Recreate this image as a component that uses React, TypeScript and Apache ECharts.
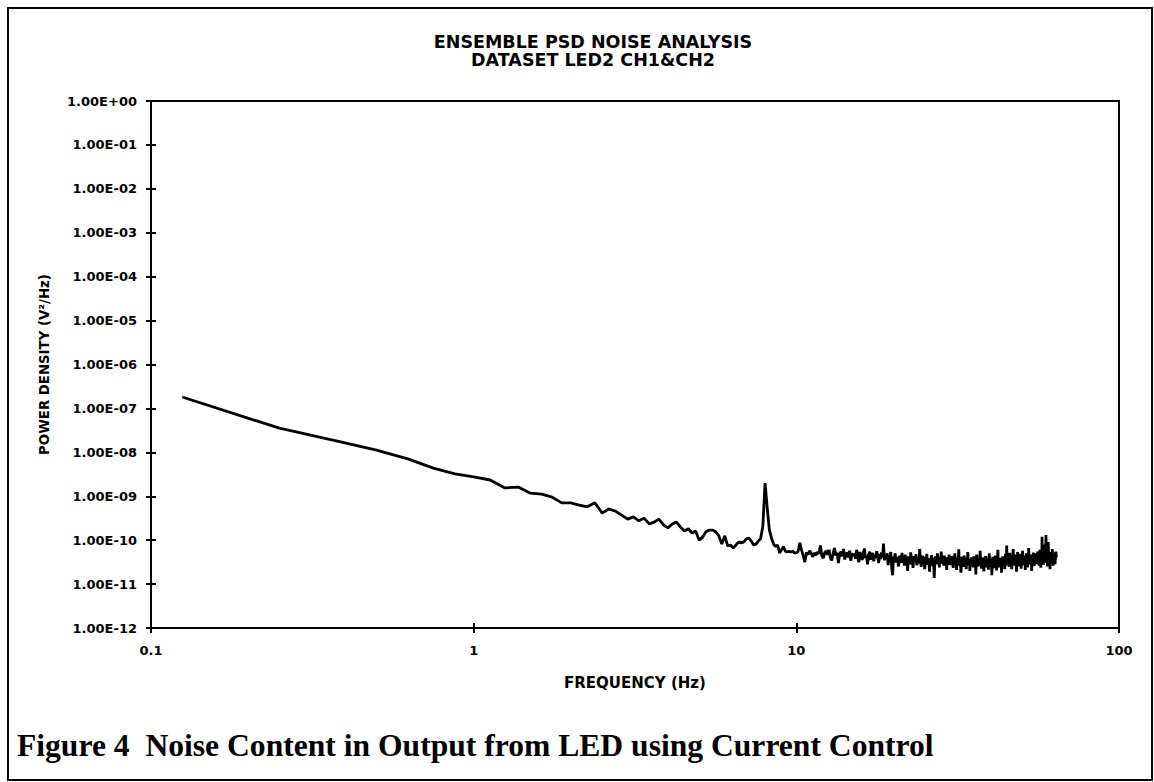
import React, { useEffect, useRef } from "react";
import * as echarts from "echarts";

// Chart texts
const TITLE_LINES = ["ENSEMBLE PSD NOISE ANALYSIS", "DATASET LED2 CH1&CH2"];
const X_NAME = "FREQUENCY (Hz)";
const Y_NAME = "POWER DENSITY (V²/Hz)";
const CAPTION = "Figure 4\u00a0\u00a0Noise Content in Output from LED using Current Control";

// Axis ranges (log)
const X_MIN = 0.1;
const X_MAX = 100;
const Y_MIN = 1e-12;
const Y_MAX = 1;

// FFT bin spacing (Hz); bins start at one step
const FREQ_STEP = 0.125;

// PSD values as log10 exponents
// 0.125 Hz .. 10 Hz
const band0to10Exp = [
  -6.74, -7.45, -7.74, -7.95, -8.15, -8.36, -8.49, -8.56, -8.63, -8.81,
  -8.79, -8.93, -8.95, -9.02, -9.15, -9.15, -9.2, -9.24, -9.15, -9.38,
  -9.29, -9.34, -9.43, -9.52, -9.47, -9.56, -9.5, -9.63, -9.59, -9.52,
  -9.65, -9.72, -9.63, -9.59, -9.7, -9.79, -9.74, -9.84, -9.79, -10.0,
  -9.93, -9.81, -9.77, -9.77, -9.81, -9.9, -10.09, -9.9, -10.13, -10.11,
  -10.18, -10.11, -10.04, -10.06, -10.04, -9.97, -9.95, -10.02, -10.11, -10.09,
  -10.02, -9.97, -9.68, -8.7, -9.27, -9.77, -9.95, -10.09, -10.15, -10.11,
  -10.29, -10.22, -10.15, -10.25, -10.27, -10.25, -10.27, -10.25, -10.29, -10.29,
];
// 10.125 .. 15 Hz
const band10to15Exp = [
  -10.26, -10.06, -10.22, -10.35, -10.5, -10.28, -10.33, -10.24, -10.3, -10.38,
  -10.29, -10.34, -10.27, -10.31, -10.12, -10.36, -10.41, -10.28, -10.25, -10.33,
  -10.22, -10.4, -10.46, -10.3, -10.18, -10.35, -10.29, -10.52, -10.31, -10.26,
  -10.37, -10.2, -10.44, -10.33, -10.28, -10.39, -10.24, -10.47, -10.3, -10.35,
];
// 15.125 .. 20 Hz
const band15to20Exp = [
  -10.31, -10.42, -10.22, -10.38, -10.5, -10.27, -10.36, -10.45, -10.3, -10.19,
  -10.41, -10.35, -10.55, -10.33, -10.26, -10.44, -10.38, -10.29, -10.48, -10.34,
  -10.4, -10.25, -10.37, -10.52, -10.31, -10.43, -10.28, -10.39, -10.08, -10.46,
  -10.33, -10.41, -10.3, -10.57, -10.36, -10.44, -10.27, -10.62, -10.8, -10.38,
];
// 20.125 .. 30 Hz
const band20to30Exp = [
  -10.42, -10.3, -10.51, -10.38, -10.47, -10.6, -10.35, -10.44, -10.52, -10.29,
  -10.46, -10.4, -10.58, -10.33, -10.49, -10.43, -10.7, -10.37, -10.45, -10.55,
  -10.28, -10.48, -10.41, -10.63, -10.36, -10.5, -10.44, -10.32, -10.57, -10.46,
  -10.39, -10.53, -10.2, -10.47, -10.61, -10.42, -10.35, -10.5, -10.45, -10.66,
  -10.38, -10.49, -10.31, -10.56, -10.43, -10.47, -10.72, -10.4, -10.52, -10.34,
  -10.46, -10.59, -10.41, -10.86, -10.48, -10.37, -10.55, -10.43, -10.3, -10.51,
  -10.45, -10.62, -10.38, -10.49, -10.26, -10.54, -10.44, -10.4, -10.58, -10.35,
  -10.47, -10.52, -10.43, -10.68, -10.39, -10.5, -10.45, -10.33, -10.56, -10.48,
];
// 30.125 .. 45 Hz
const band30to45Exp = [
  -10.44, -10.57, -10.36, -10.5, -10.63, -10.42, -10.49, -10.3, -10.55, -10.46,
  -10.68, -10.4, -10.52, -10.47, -10.21, -10.58, -10.45, -10.5, -10.74, -10.43,
  -10.38, -10.55, -10.49, -10.61, -10.35, -10.47, -10.53, -10.44, -10.66, -10.41,
  -10.5, -10.27, -10.56, -10.48, -10.43, -10.7, -10.46, -10.52, -10.39, -10.59,
  -10.45, -10.51, -10.62, -10.37, -10.48, -10.55, -10.42, -10.78, -10.47, -10.33,
  -10.54, -10.49, -10.6, -10.41, -10.46, -10.57, -10.24, -10.52, -10.44, -10.65,
  -10.5, -10.39, -10.56, -10.47, -10.71, -10.43, -10.53, -10.48, -10.36, -10.62,
  -10.45, -10.58, -10.5, -10.42, -10.67, -10.47, -10.3, -10.55, -10.49, -10.61,
  -10.44, -10.52, -10.8, -10.46, -10.38, -10.57, -10.5, -10.43, -10.64, -10.48,
  -10.35, -10.55, -10.47, -10.69, -10.41, -10.53, -10.22, -10.5, -10.59, -10.45,
  -10.62, -10.48, -10.4, -10.56, -10.51, -10.74, -10.44, -10.49, -10.37, -10.6,
  -10.46, -10.54, -10.42, -10.66, -10.48, -10.31, -10.57, -10.5, -10.12, -10.47,
];
// 45.125 .. 55 Hz
const band45to55Exp = [
  -10.45, -10.36, -10.52, -10.4, -10.61, -10.43, -10.29, -10.48, -10.38, -10.55,
  -10.42, -10.66, -10.35, -10.47, -10.41, -10.2, -10.53, -10.44, -10.39, -10.58,
  -10.43, -10.33, -10.5, -10.46, -10.72, -10.4, -10.45, -10.27, -10.54, -10.42,
  -10.37, -10.6, -10.44, -10.48, -10.31, -10.52, -10.41, -10.65, -10.38, -10.46,
  -10.43, -10.24, -10.51, -10.4, -10.57, -10.45, -10.35, -10.49, -10.42, -10.68,
  -10.39, -10.47, -10.3, -10.53, -10.44, -10.4, -10.62, -10.36, -10.46, -10.18,
  -10.5, -10.42, -10.38, -10.56, -10.44, -10.33, -10.49, -10.41, -10.7, -10.45,
  -10.37, -10.52, -10.43, -10.28, -10.48, -10.4, -10.59, -10.35, -10.46, -10.42,
];
// 55.125 .. 64 Hz
const band55to64Exp = [
  -10.38, -10.3, -10.47, -10.35, -10.55, -10.33, -10.41, -10.26, -10.49, -10.37,
  -10.32, -10.58, -10.36, -10.43, -10.22, -10.4, -10.34, -10.63, -10.38, -10.29,
  -10.45, -9.92, -10.35, -10.48, -10.31, -10.4, -10.56, -10.1, -10.37, -10.44,
  -10.28, -10.52, -10.36, -10.41, -9.88, -10.33, -10.47, -10.39, -10.25, -10.6,
  -10.35, -10.43, -10.04, -10.38, -10.5, -10.3, -10.42, -10.36, -10.66, -10.34,
  -10.27, -10.45, -10.38, -10.31, -10.52, -10.4, -10.2, -10.44, -10.35, -10.58,
  -10.33, -10.41, -10.28, -10.47, -10.37, -10.3, -10.55, -10.36, -10.42, -10.26,
  -10.39, -10.34,
];

const FONT = "DejaVu Sans";

function expLabel(v: number): string {
  const e = Math.round(Math.log10(v));
  const a = Math.abs(e);
  return "1.00E" + (e < 0 ? "-" : "+") + (a < 10 ? "0" + a : String(a));
}

export default function App() {
  const ref = useRef<HTMLDivElement>(null);

  useEffect(() => {
    if (!ref.current) return;
    const chart = echarts.init(ref.current, undefined, { renderer: "svg" });

    const exps = [
      ...band0to10Exp,
      ...band10to15Exp,
      ...band15to20Exp,
      ...band20to30Exp,
      ...band30to45Exp,
      ...band45to55Exp,
      ...band55to64Exp,
    ];
    const data = exps.map((e, i) => [(i + 1) * FREQ_STEP, Math.pow(10, e)]);

    const labelStyle = { color: "#000", fontFamily: FONT, fontWeight: "bold" as const, fontSize: 13 };
    const lineStyle = { color: "#000", width: 2 };

    chart.setOption({
      animation: false,
      backgroundColor: "#fff",
      grid: {
        left: 151,
        top: 101,
        right: 35,
        bottom: 154,
        show: true,
        borderColor: "#000",
        borderWidth: 2,
        backgroundColor: "transparent",
      },
      xAxis: [
        {
          type: "log",
          logBase: 10,
          min: X_MIN,
          max: X_MAX,
          position: "bottom",
          name: X_NAME,
          nameLocation: "middle",
          nameGap: 47,
          nameTextStyle: { color: "#000", fontFamily: FONT, fontWeight: "bold", fontSize: 15 },
          axisLine: { show: true, lineStyle },
          axisTick: { show: true, length: 5, lineStyle },
          axisLabel: {
            ...labelStyle,
            margin: 16,
            formatter: (v: number) => String(+v.toPrecision(6)),
          },
          splitLine: { show: false },
          minorTick: { show: false },
        },
        {
          type: "log",
          logBase: 10,
          min: X_MIN,
          max: X_MAX,
          position: "bottom",
          axisLine: { show: false },
          axisTick: { show: true, inside: true, length: 5, lineStyle },
          axisLabel: { show: false },
          splitLine: { show: false },
        },
      ],
      yAxis: [
        {
          type: "log",
          logBase: 10,
          min: Y_MIN,
          max: Y_MAX,
          interval: 1,
          splitNumber: 12,
          position: "left",
          name: Y_NAME,
          nameLocation: "middle",
          nameGap: 100,
          nameTextStyle: { color: "#000", fontFamily: FONT, fontWeight: "bold", fontSize: 13.3 },
          axisLine: { show: true, lineStyle },
          axisTick: { show: true, length: 5, lineStyle },
          axisLabel: { ...labelStyle, margin: 14, formatter: expLabel, interval: 0, hideOverlap: false },
          splitLine: { show: false },
        },
        {
          type: "log",
          logBase: 10,
          min: Y_MIN,
          max: Y_MAX,
          interval: 1,
          splitNumber: 12,
          position: "left",
          axisLine: { show: false },
          axisTick: { show: true, inside: true, length: 5, lineStyle },
          axisLabel: { show: false },
          splitLine: { show: false },
        },
      ],
      title: {
        text: TITLE_LINES.join("\n"),
        left: 588,
        top: 28,
        textAlign: "center",
        textStyle: {
          color: "#000",
          fontFamily: FONT,
          fontWeight: "bold",
          fontSize: 17.5,
          lineHeight: 18,
        },
      },
      graphic: [
        {
          type: "rect",
          shape: { x: 8, y: 8, width: 1144, height: 772 },
          style: { fill: "none", stroke: "#000", lineWidth: 2 },
          silent: true,
        },
        {
          type: "text",
          x: 17,
          y: 745,
          style: {
            text: CAPTION,
            fill: "#000",
            font: "bold 31.6px 'Liberation Serif', 'Times New Roman', serif",
            verticalAlign: "middle",
            align: "left",
          },
          silent: true,
        },
      ],
      series: [
        {
          type: "line",
          xAxisIndex: 0,
          yAxisIndex: 0,
          data,
          showSymbol: false,
          symbol: "none",
          lineStyle: { color: "#000", width: 2.8 },
          silent: true,
        },
      ],
    });

    return () => chart.dispose();
  }, []);

  return (
    <div
      ref={ref}
      style={{ position: "absolute", left: 0, top: 0, width: 1154, height: 782, background: "#fff" }}
    />
  );
}
